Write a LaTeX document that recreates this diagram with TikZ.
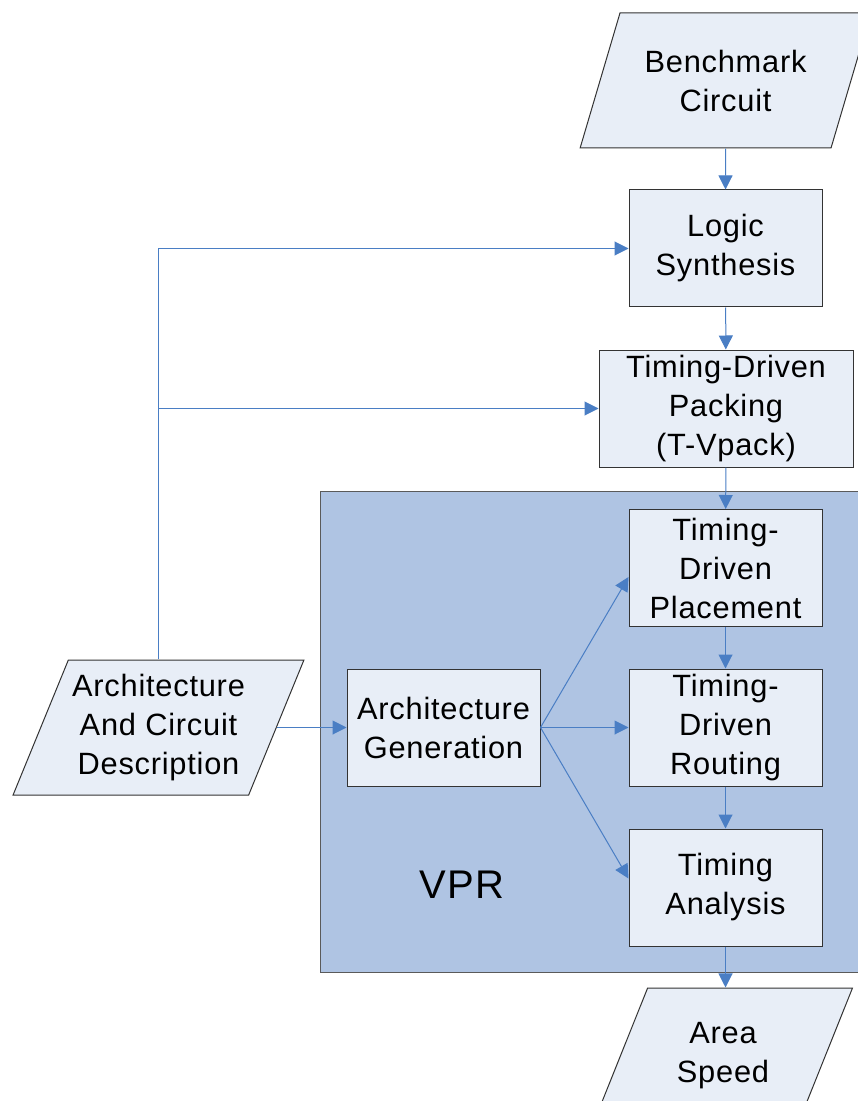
\documentclass[tikz,border=0pt]{standalone}
\usepackage{fontspec}
\setmainfont{Liberation Sans}[LetterSpace=2.5]
\usetikzlibrary{shapes.geometric, arrows.meta, positioning}
\definecolor{boxfill}{RGB}{232,238,247}
\definecolor{vprfill}{RGB}{175,196,227}
\definecolor{linkblue}{RGB}{74,126,196}
\definecolor{vprline}{RGB}{90,90,90}
\newcommand{\flowfont}{\fontsize{15.4}{19.5}\selectfont}

\tikzset{
  proc/.style={draw=black!80, line width=0.5pt, fill=boxfill, minimum width=96.5pt,
    minimum height=58.5pt, align=center, font=\flowfont, inner sep=0pt},
  data/.style={trapezium, trapezium left angle=63.6, trapezium right angle=116.4,
    trapezium stretches=true, draw=black!80, line width=0.5pt, fill=boxfill,
    minimum width=145.5pt, minimum height=67.5pt, align=center, font=\flowfont, inner sep=0pt},
  wire/.style={draw=linkblue, line width=0.5pt},
  link/.style={wire, -{Triangle[length=7pt,width=7pt]}},
}

\begin{document}
\begin{tikzpicture}[x=0.5pt, y=-0.5pt]
    \useasboundingbox (0,0) rectangle (857,1101);

    % VPR container
    \node[draw=vprline, line width=0.7pt, fill=vprfill, minimum width=280pt, minimum height=240.5pt,
      anchor=north west, inner sep=0pt] (vpr) at (320,491) {};
    \node[font=\fontsize{20}{24}\selectfont] (vprlabel) at (462,885) {VPR};

    % Inputs and outputs
    \node[data] (bench) at (725.5,80.5) {Benchmark\\Circuit};
    \node[data] (arch) at (158.5,727.5) {Architecture\\And Circuit\\Description};
    \node[data, minimum width=130pt] (area) at (723,1055.5) {Area\\Speed};

    % Tool flow
    \node[proc] (logic) at (725.5,248.5) {Logic\\Synthesis};
    \node[proc, minimum width=127pt] (pack) at (726,408.5) {Timing-Driven\\Packing\\(T-Vpack)};
    \node[proc] (place) at (725.5,568) {Timing-\\Driven\\Placement};
    \node[proc] (route) at (725.5,727.5) {Timing-\\Driven\\Routing};
    \node[proc] (anal) at (725.5,887.5) {Timing\\Analysis};
    \node[proc] (archgen) at (443.5,727.5) {Architecture\\Generation};

    \draw[link] (bench) -- (logic);
    \draw[link] (logic) -- (pack);
    \draw[link] (pack) -- (place);
    \draw[link] (place) -- (route);
    \draw[link] (route) -- (anal);
    \draw[link] (anal.south) -- (anal.south |- area.north);

    \draw[link] (arch.center |- arch.north) |- (logic.west);
    \draw[link] (arch.center |- pack.west) -- (pack.west);
    \draw[link] (arch) -- (archgen);

    \draw[link] (archgen.east) -- ([yshift=-4.5pt]place.west);
    \draw[link] (archgen.east) -- (route.west);
    \draw[link] (archgen.east) -- ([yshift=4.5pt]anal.west);
\end{tikzpicture}
\end{document}
